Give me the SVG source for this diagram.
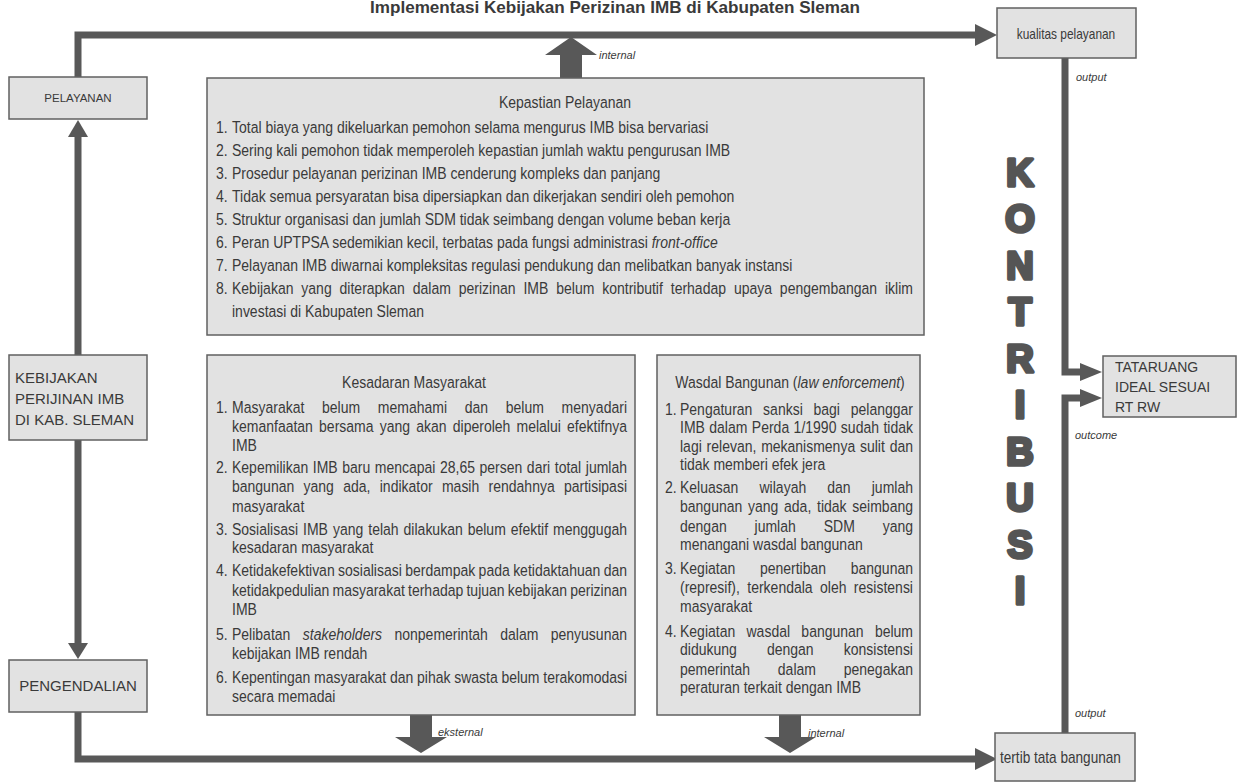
<svg xmlns="http://www.w3.org/2000/svg" width="1239" height="783" viewBox="0 0 1239 783">
<style>
.box{fill:#e2e2e2;stroke:#606060;stroke-width:1.5}
.t{font-family:"Liberation Sans",Arial,sans-serif;fill:#3a3a3a}
.n{font-size:16.47px}
.s{font-size:15px}
.lab{font-size:11px;font-style:italic}
.ln{fill:none;stroke:#585858;stroke-width:7;stroke-linejoin:miter}
.ah{fill:#585858}
.k{font-family:"Liberation Sans",Arial,sans-serif;font-weight:bold;font-size:38px;fill:#555;stroke:#555;stroke-width:3.5;stroke-linejoin:round;text-anchor:middle}
</style>
<rect width="1239" height="783" fill="#fff"/>
<text class="t" x="615" y="13" font-size="16.5" font-weight="bold" text-anchor="middle" textLength="490" lengthAdjust="spacingAndGlyphs">Implementasi Kebijakan Perizinan IMB di Kabupaten Sleman</text>

<g id="connectors">
<path class="ln" d="M78,77 V35 H978"/>
<polygon class="ah" points="975,24 997,35 975,46"/>
<path class="ln" d="M1065,58 V372 H1082"/>
<polygon class="ah" points="1080,363 1102,372 1080,381"/>
<path class="ln" d="M1065,733 V398 H1082"/>
<polygon class="ah" points="1080,389 1102,398 1080,407"/>
<path class="ln" d="M78,712 V759 H978"/>
<polygon class="ah" points="975,748 997,759 975,770"/>
<path class="ln" d="M78,134 V355"/>
<polygon class="ah" points="68,137 78,120 88,137"/>
<path class="ln" d="M78,440 V645"/>
<polygon class="ah" points="68,643 78,659 88,643"/>
<polygon class="ah" points="560,78 560,55 545,55 571,37 597,55 582,55 582,78"/>
<polygon class="ah" points="410,715 410,737 395,737 421,753 447,737 432,737 432,715"/>
<polygon class="ah" points="779,715 779,737 764,737 790,753 816,737 801,737 801,715"/>
<text class="t lab" x="599" y="59">internal</text>
<text class="t lab" x="1076" y="81">output</text>
<text class="t lab" x="1075" y="439">outcome</text>
<text class="t lab" x="1075" y="717">output</text>
<text class="t lab" x="438" y="736">eksternal</text>
<text class="t lab" x="808" y="737">internal</text>
</g>

<g id="pelayanan">
<rect class="box" x="9" y="77" width="138" height="42"/>
<text class="t" x="78" y="102" font-size="11.5" text-anchor="middle">PELAYANAN</text>
</g>
<g id="kebijakan">
<rect class="box" x="9" y="355" width="138" height="85"/>
<text class="t s" x="15" y="383">KEBIJAKAN</text>
<text class="t s" x="15" y="404">PERIJINAN IMB</text>
<text class="t s" x="15" y="425">DI KAB. SLEMAN</text>
</g>
<g id="pengendalian">
<rect class="box" x="9" y="660" width="138" height="52"/>
<text class="t s" x="78" y="691" text-anchor="middle">PENGENDALIAN</text>
</g>

<g id="kualitas">
<rect class="box" x="997" y="8" width="139" height="50"/>
<text class="t" transform="scale(0.85 1)" x="1254.1" y="39" font-size="14" text-anchor="middle">kualitas pelayanan</text>
</g>
<g id="tataruang">
<rect class="box" x="1103" y="356" width="133" height="61"/>
<text class="t" x="1115" y="372" font-size="14">TATARUANG</text>
<text class="t" x="1115" y="392" font-size="14">IDEAL SESUAI</text>
<text class="t" x="1115" y="412" font-size="14">RT RW</text>
</g>
<g id="tertib">
<rect class="box" x="995" y="733" width="140" height="48"/>
<text class="t" transform="scale(0.85 1)" x="1176.5" y="763" font-size="16">tertib tata bangunan</text>
</g>

<g id="kontribusi">
<text class="k" x="1020" y="186">K</text>
<text class="k" x="1020" y="232">O</text>
<text class="k" x="1020" y="279">N</text>
<text class="k" x="1020" y="325">T</text>
<text class="k" x="1020" y="372">R</text>
<text class="k" x="1020" y="418">I</text>
<text class="k" x="1020" y="465">B</text>
<text class="k" x="1020" y="511">U</text>
<text class="k" x="1020" y="558">S</text>
<text class="k" x="1020" y="604">I</text>
</g>

<g id="kepastian">
<rect class="box" x="207" y="78" width="717" height="257"/>
<g class="t n" transform="scale(0.85 1)">
<text x="664.71" y="108" text-anchor="middle">Kepastian Pelayanan</text>
<text x="254.12" y="133">1.</text><text x="272.94" y="133">Total biaya yang dikeluarkan pemohon selama mengurus IMB bisa bervariasi</text>
<text x="254.12" y="156">2.</text><text x="272.94" y="156">Sering kali pemohon tidak memperoleh kepastian jumlah waktu pengurusan IMB</text>
<text x="254.12" y="179">3.</text><text x="272.94" y="179">Prosedur pelayanan perizinan IMB cenderung kompleks dan panjang</text>
<text x="254.12" y="202">4.</text><text x="272.94" y="202">Tidak semua persyaratan bisa dipersiapkan dan dikerjakan sendiri oleh pemohon</text>
<text x="254.12" y="225">5.</text><text x="272.94" y="225">Struktur organisasi dan jumlah SDM tidak seimbang dengan volume beban kerja</text>
<text x="254.12" y="248">6.</text><text x="272.94" y="248">Peran UPTPSA sedemikian kecil, terbatas pada fungsi administrasi <tspan font-style="italic">front-office</tspan></text>
<text x="254.12" y="271">7.</text><text x="272.94" y="271">Pelayanan IMB diwarnai kompleksitas regulasi pendukung dan melibatkan banyak instansi</text>
<text x="254.12" y="294">8.</text><text x="272.94" y="294" word-spacing="4.7" textLength="801.18" lengthAdjust="spacing">Kebijakan yang diterapkan dalam perizinan IMB belum kontributif terhadap upaya pengembangan iklim</text>
<text x="272.94" y="317">investasi di Kabupaten Sleman</text>
</g>
</g>

<g id="kesadaran">
<rect class="box" x="207" y="355" width="428" height="360"/>
<g class="t n" transform="scale(0.85 1)">
<text x="487.06" y="388" text-anchor="middle">Kesadaran Masyarakat</text>
<text x="254.12" y="413">1.</text><text x="272.94" y="413" word-spacing="16.2" textLength="464.71" lengthAdjust="spacing">Masyarakat belum memahami dan belum menyadari</text>
<text x="272.94" y="432" word-spacing="2.7" textLength="464.71" lengthAdjust="spacing">kemanfaatan bersama yang akan diperoleh melalui efektifnya</text>
<text x="272.94" y="451">IMB</text>
<text x="254.12" y="473">2.</text><text x="272.94" y="473" word-spacing="0.8" textLength="464.71" lengthAdjust="spacing">Kepemilikan IMB baru mencapai 28,65 persen dari total jumlah</text>
<text x="272.94" y="492" word-spacing="6.4" textLength="464.71" lengthAdjust="spacing">bangunan yang ada, indikator masih rendahnya partisipasi</text>
<text x="272.94" y="512">masyarakat</text>
<text x="254.12" y="535">3.</text><text x="272.94" y="535" word-spacing="1.3" textLength="464.71" lengthAdjust="spacing">Sosialisasi IMB yang telah dilakukan belum efektif menggugah</text>
<text x="272.94" y="553">kesadaran masyarakat</text>
<text x="254.12" y="576">4.</text><text x="272.94" y="576" word-spacing="-0.6" textLength="464.71" lengthAdjust="spacing">Ketidakefektivan sosialisasi berdampak pada ketidaktahuan dan</text>
<text x="272.94" y="596" word-spacing="-0.8" textLength="464.71" lengthAdjust="spacing">ketidakpedulian masyarakat terhadap tujuan kebijakan perizinan</text>
<text x="272.94" y="615">IMB</text>
<text x="254.12" y="640">5.</text><text x="272.94" y="640" word-spacing="10" textLength="464.71" lengthAdjust="spacing">Pelibatan <tspan font-style="italic">stakeholders</tspan> nonpemerintah dalam penyusunan</text>
<text x="272.94" y="659">kebijakan IMB rendah</text>
<text x="254.12" y="683">6.</text><text x="272.94" y="683" textLength="464.71" lengthAdjust="spacing">Kepentingan masyarakat dan pihak swasta belum terakomodasi</text>
<text x="272.94" y="702">secara memadai</text>
</g>
</g>

<g id="wasdal">
<rect class="box" x="657" y="355" width="263" height="360"/>
<g class="t n" transform="scale(0.85 1)">
<text x="929.41" y="388" text-anchor="middle">Wasdal Bangunan (<tspan font-style="italic">law enforcement</tspan>)</text>
<text x="782.35" y="415">1.</text><text x="800" y="415" word-spacing="8" textLength="274.12" lengthAdjust="spacing">Pengaturan sanksi bagi pelanggar</text>
<text x="800" y="433" word-spacing="0.6" textLength="274.12" lengthAdjust="spacing">IMB dalam Perda 1/1990 sudah tidak</text>
<text x="800" y="452" word-spacing="1.1" textLength="274.12" lengthAdjust="spacing">lagi relevan, mekanismenya sulit dan</text>
<text x="800" y="470">tidak memberi efek jera</text>
<text x="782.35" y="493">2.</text><text x="800" y="493" word-spacing="20.2" textLength="274.12" lengthAdjust="spacing">Keluasan wilayah dan jumlah</text>
<text x="800" y="512" word-spacing="2.1" textLength="274.12" lengthAdjust="spacing">bangunan yang ada, tidak seimbang</text>
<text x="800" y="532" word-spacing="28.2" textLength="274.12" lengthAdjust="spacing">dengan jumlah SDM yang</text>
<text x="800" y="550">menangani wasdal bangunan</text>
<text x="782.35" y="574">3.</text><text x="800" y="574" word-spacing="24.5" textLength="274.12" lengthAdjust="spacing">Kegiatan penertiban bangunan</text>
<text x="800" y="593" word-spacing="4.1" textLength="274.12" lengthAdjust="spacing">(represif), terkendala oleh resistensi</text>
<text x="800" y="612">masyarakat</text>
<text x="782.35" y="637">4.</text><text x="800" y="637" word-spacing="8.7" textLength="274.12" lengthAdjust="spacing">Kegiatan wasdal bangunan belum</text>
<text x="800" y="655" word-spacing="30.8" textLength="274.12" lengthAdjust="spacing">didukung dengan konsistensi</text>
<text x="800" y="675" word-spacing="28.1" textLength="274.12" lengthAdjust="spacing">pemerintah dalam penegakan</text>
<text x="800" y="693">peraturan terkait dengan IMB</text>
</g>
</g>
</svg>
